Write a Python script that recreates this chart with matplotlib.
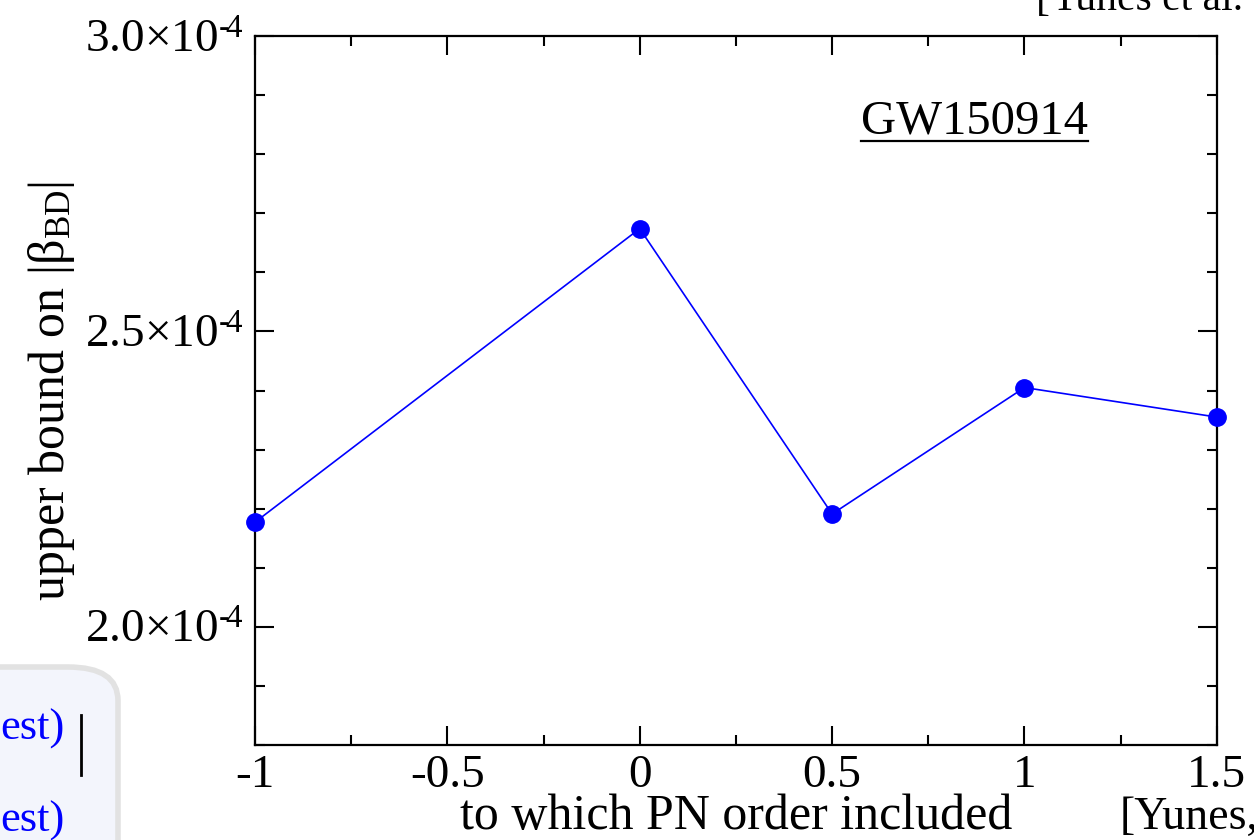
import numpy as np
import matplotlib
matplotlib.use("Agg")
import matplotlib.pyplot as plt
from matplotlib.ticker import MultipleLocator, FuncFormatter
from matplotlib.patches import FancyBboxPatch
from matplotlib.lines import Line2D

plt.rcParams['font.family'] = ['Liberation Serif', 'DejaVu Serif']
plt.rcParams['mathtext.fontset'] = 'custom'
plt.rcParams['mathtext.rm'] = 'Liberation Serif'
plt.rcParams['mathtext.it'] = 'Liberation Serif:italic'

# data: upper bound on |beta_BD| vs highest PN order included
pn_order = [-1, 0, 0.5, 1, 1.5]
beta_bound = [2.177e-4, 2.674e-4, 2.191e-4, 2.405e-4, 2.355e-4]

fig = plt.figure(figsize=(12.54, 8.4), dpi=100)
ax = fig.add_axes([0.2033, 0.1131, 0.7671, 0.844])

ax.plot(pn_order, beta_bound, color='#0000ff', lw=1.2, marker='o',
        markersize=12.5, clip_on=False, zorder=3)

ax.set_xlim(-1, 1.5)
ax.set_ylim(1.8e-4, 3.0e-4)
ax.xaxis.set_major_locator(MultipleLocator(0.5))
ax.xaxis.set_minor_locator(MultipleLocator(0.25))
ax.yaxis.set_major_locator(MultipleLocator(0.5e-4))
ax.yaxis.set_minor_locator(MultipleLocator(0.1e-4))


def xfmt(v, pos):
    return '%g' % v


def yfmt(v, pos):
    # hyphen (not minus) in the exponent, like the original
    return '%.1f\u00d710$^{\\mathregular{\u2010}\\!\\mathregular{4}}$' % (v * 1e4)


ax.xaxis.set_major_formatter(FuncFormatter(xfmt))
ax.yaxis.set_major_formatter(FuncFormatter(yfmt))
ax.tick_params(which='both', direction='in', top=True, right=True, width=1.5)
ax.tick_params(which='major', length=14)
ax.tick_params(which='minor', length=7)
ax.tick_params(axis='x', pad=7, labelsize=34)
ax.tick_params(axis='y', pad=8, labelsize=34)
for sp in ax.spines.values():
    sp.set_linewidth(1.6)

ax.set_xlabel('to which PN order included', fontsize=36, labelpad=-3)
ax.set_ylabel('upper bound on |\u03b2$_{\\mathregular{BD}}$|', fontsize=36, labelpad=6)

gw = ax.text(0.748, 0.88, 'GW150914', transform=ax.transAxes, fontsize=35,
             ha='center', va='center')

# slide fragments around the chart
fig.text(1036 / 1254, 1 - 10 / 840, '[Yunes et al.', fontsize=30, va='baseline')
fig.text(1120 / 1254, 1 - 829 / 840, '[Yunes,', fontsize=33, va='baseline')
box = FancyBboxPatch((-0.1, -0.1), 0.1 + 118 / 1254, 0.1 + 173 / 840,
                     boxstyle='round,pad=0,rounding_size=0.04',
                     transform=fig.transFigure, facecolor='#f3f5fc',
                     edgecolor='#e2e2e2', lw=4, zorder=0)
fig.patches.append(box)
fig.text(0.0, 1 - 740 / 840, 'est)', fontsize=32, color='#0000ff', va='baseline')
fig.text(0.0, 1 - 832 / 840, 'est)', fontsize=32, color='#0000ff', va='baseline')
fig.lines.append(Line2D([81 / 1254, 81 / 1254], [1 - 715 / 840, 1 - 775 / 840],
                        transform=fig.transFigure, color='black', lw=2))

# underline GW150914
fig.canvas.draw()
bb = gw.get_window_extent(fig.canvas.get_renderer())
inv = fig.transFigure.inverted()
(x0, y0), (x1, y1) = inv.transform([[bb.x0, bb.y0], [bb.x1, bb.y0]])
fig.lines.append(Line2D([x0, x1], [y0 + 0.002, y0 + 0.002],
                        transform=fig.transFigure, color='black', lw=1.6))

fig.savefig('out.png', dpi=100)
